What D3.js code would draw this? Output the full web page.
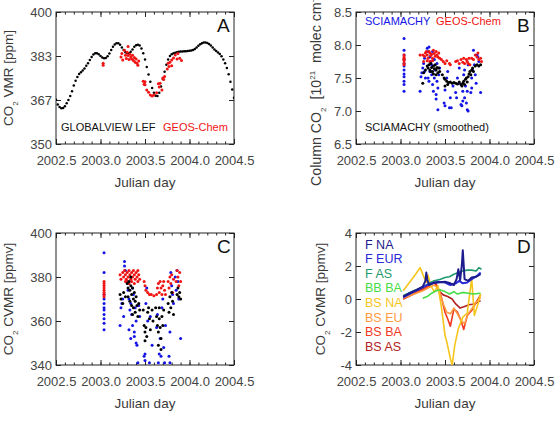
<!DOCTYPE html>
<html>
<head>
<meta charset="utf-8">
<script src="https://cdn.jsdelivr.net/npm/d3@7"></script>
<style>
  body { margin: 0; background: #fff; }
  svg { display: block; }
  text { font-family: "Liberation Sans", Helvetica, Arial, sans-serif; }
</style>
</head>
<body>
<svg id="fig" width="556" height="437"></svg>
<script>
// x axis (decimal year)
var yearTicks = [2002.5, 2003.0, 2003.5, 2004.0, 2004.5];
var yearLabels = ['2002.5', '2003.0', '2003.5', '2004.0', '2004.5'];

// panel A : GLOBALVIEW LEF and GEOS-Chem surface CO2 [ppm]
var gvTime = [2002.50, 2002.52, 2002.54, 2002.56, 2002.58, 2002.60, 2002.62, 2002.64, 2002.66, 2002.68,
  2002.70, 2002.72, 2002.74, 2002.76, 2002.78, 2002.80, 2002.82, 2002.84, 2002.86, 2002.88,
  2002.90, 2002.92, 2002.94, 2002.96, 2002.98, 2003.00, 2003.02, 2003.04, 2003.06, 2003.08,
  2003.10, 2003.12, 2003.14, 2003.16, 2003.18, 2003.20, 2003.22, 2003.24, 2003.26, 2003.28,
  2003.30, 2003.32, 2003.34, 2003.36, 2003.38, 2003.40, 2003.42, 2003.44, 2003.46, 2003.48,
  2003.50, 2003.52, 2003.54, 2003.56, 2003.58, 2003.60, 2003.62, 2003.64, 2003.66, 2003.68,
  2003.70, 2003.72, 2003.74, 2003.76, 2003.78, 2003.80, 2003.82, 2003.84, 2003.86, 2003.88,
  2003.90, 2003.92, 2003.94, 2003.96, 2003.98, 2004.00, 2004.02, 2004.04, 2004.06, 2004.08,
  2004.10, 2004.12, 2004.14, 2004.16, 2004.18, 2004.20, 2004.22, 2004.24, 2004.26, 2004.28,
  2004.30, 2004.32, 2004.34, 2004.36, 2004.38, 2004.40, 2004.42, 2004.44, 2004.46, 2004.48, 2004.50];
var gvCO2 = [366.8, 365.0, 364.0, 363.5, 363.6, 364.3, 365.4, 366.7, 368.2, 370.0,
  372.2, 374.0, 375.4, 376.5, 377.2, 377.8, 378.6, 379.6, 380.6, 381.8,
  383.0, 383.9, 384.4, 384.4, 384.0, 383.3, 382.8, 382.5, 382.6, 383.2,
  384.3, 385.6, 386.8, 387.7, 388.2, 388.2, 387.6, 386.6, 385.6, 384.8,
  384.4, 384.4, 384.9, 385.8, 386.8, 387.4, 387.6, 387.3, 386.2, 384.4,
  382.0, 379.2, 376.3, 373.6, 371.2, 369.4, 368.3, 368.2, 369.4, 371.8,
  374.6, 377.4, 380.0, 382.0, 383.3, 384.0, 384.4, 384.6, 384.8, 384.9,
  385.0, 385.0, 385.1, 385.1, 385.2, 385.3, 385.4, 385.6, 386.0, 386.6,
  387.2, 387.8, 388.2, 388.4, 388.4, 388.3, 387.9, 387.3, 386.6, 385.8,
  385.2, 384.7, 384.1, 383.2, 382.0, 380.6, 378.8, 376.4, 373.6, 370.6, 367.5];
var gcSurface = [[2003.03, 380.6], [2003.03, 379.8],
  [2003.23, 383.0], [2003.24, 384.3], [2003.25, 381.8], [2003.27, 385.5], [2003.28, 383.6],
  [2003.29, 382.4], [2003.30, 384.8], [2003.31, 386.9], [2003.31, 383.5], [2003.32, 382.0],
  [2003.33, 384.0], [2003.34, 383.0], [2003.35, 382.2], [2003.36, 383.6], [2003.37, 381.6],
  [2003.38, 382.8], [2003.39, 381.0], [2003.40, 382.2], [2003.41, 380.6], [2003.42, 379.8],
  [2003.43, 381.4],
  [2003.48, 373.8], [2003.49, 372.6], [2003.50, 373.6], [2003.50, 372.4], [2003.52, 370.5],
  [2003.54, 369.6], [2003.56, 368.6], [2003.58, 368.2], [2003.60, 368.6], [2003.63, 369.4],
  [2003.65, 372.8], [2003.66, 371.6], [2003.67, 373.0], [2003.69, 370.5], [2003.70, 375.0],
  [2003.71, 374.4], [2003.72, 375.6],
  [2003.75, 378.4], [2003.76, 380.6], [2003.77, 379.4], [2003.78, 381.0], [2003.80, 381.8],
  [2003.80, 379.6], [2003.82, 382.6], [2003.84, 383.7], [2003.86, 382.2], [2003.87, 384.3],
  [2003.89, 382.5], [2003.91, 381.6]];

// panel B : column CO2 [10^21 molec cm^-2]
var sciaColumn = [[2003.04, 8.10], [2003.04, 7.92], [2003.04, 7.85], [2003.04, 7.78], [2003.04, 7.72],
  [2003.04, 7.68], [2003.04, 7.62], [2003.04, 7.56], [2003.04, 7.52], [2003.04, 7.45], [2003.04, 7.40], [2003.04, 7.30],
  [2003.22, 7.30], [2003.23, 7.52], [2003.24, 7.58], [2003.25, 7.65], [2003.26, 7.72], [2003.27, 7.80], [2003.28, 7.50], [2003.27, 7.60],
  [2003.30, 7.95], [2003.31, 7.90], [2003.32, 7.97], [2003.33, 7.82], [2003.34, 7.75], [2003.35, 7.70], [2003.33, 7.60],
  [2003.31, 7.50], [2003.32, 7.45], [2003.35, 7.55], [2003.36, 7.40], [2003.37, 7.30], [2003.38, 7.50], [2003.39, 7.62],
  [2003.40, 7.25], [2003.40, 7.18], [2003.41, 7.45], [2003.42, 7.35], [2003.42, 7.02], [2003.43, 7.55], [2003.44, 7.65],
  [2003.36, 7.90], [2003.38, 7.78], [2003.41, 7.72],
  [2003.49, 7.12], [2003.50, 7.08], [2003.50, 7.32], [2003.52, 7.50], [2003.53, 7.60], [2003.55, 7.05], [2003.56, 7.20],
  [2003.57, 7.05], [2003.59, 7.38], [2003.62, 7.28], [2003.63, 7.20], [2003.64, 7.50], [2003.66, 7.42], [2003.66, 7.65],
  [2003.68, 7.10], [2003.69, 7.08], [2003.70, 7.15], [2003.70, 7.30], [2003.71, 7.55], [2003.72, 7.62], [2003.72, 7.20],
  [2003.73, 7.38], [2003.74, 7.12], [2003.75, 7.02], [2003.76, 7.00], [2003.75, 7.30], [2003.76, 7.70],
  [2003.79, 7.28], [2003.80, 7.35], [2003.80, 7.50], [2003.81, 7.62], [2003.82, 7.92], [2003.83, 7.70], [2003.84, 7.55],
  [2003.86, 7.85], [2003.87, 7.82], [2003.88, 7.75], [2003.90, 7.28], [2003.85, 7.42]];
var gcColumn = [[2003.04, 7.85], [2003.04, 7.82], [2003.04, 7.80], [2003.04, 7.78], [2003.04, 7.76], [2003.04, 7.72], [2003.04, 7.70],
  [2003.22, 7.85], [2003.25, 7.85], [2003.27, 7.83], [2003.28, 7.88], [2003.29, 7.90], [2003.30, 7.85], [2003.31, 7.80],
  [2003.32, 7.90], [2003.33, 7.88], [2003.34, 7.84], [2003.35, 7.86], [2003.36, 7.80], [2003.37, 7.92], [2003.38, 7.87],
  [2003.39, 7.83], [2003.40, 7.90], [2003.41, 7.85], [2003.42, 7.82], [2003.43, 7.88], [2003.44, 7.80], [2003.30, 7.76],
  [2003.33, 7.75], [2003.36, 7.76], [2003.26, 7.75],
  [2003.46, 7.78], [2003.48, 7.75], [2003.50, 7.72], [2003.52, 7.76], [2003.55, 7.72], [2003.56, 7.70],
  [2003.62, 7.75], [2003.64, 7.76], [2003.66, 7.72], [2003.68, 7.78], [2003.70, 7.74], [2003.71, 7.80], [2003.72, 7.72],
  [2003.74, 7.78], [2003.75, 7.75], [2003.76, 7.72], [2003.77, 7.80], [2003.78, 7.70],
  [2003.80, 7.80], [2003.82, 7.78], [2003.84, 7.85], [2003.86, 7.82], [2003.88, 7.78], [2003.90, 7.80], [2003.91, 7.75], [2003.87, 7.88]];
var sciaSmoothColumn = [[2003.25, 7.42], [2003.26, 7.58], [2003.28, 7.62], [2003.30, 7.68], [2003.31, 7.65], [2003.32, 7.70],
  [2003.33, 7.62], [2003.34, 7.72], [2003.35, 7.66], [2003.36, 7.60], [2003.37, 7.68], [2003.38, 7.64], [2003.39, 7.70],
  [2003.40, 7.62], [2003.41, 7.66], [2003.42, 7.58], [2003.43, 7.65], [2003.44, 7.60], [2003.34, 7.60], [2003.37, 7.56], [2003.40, 7.55],
  [2003.47, 7.55], [2003.49, 7.50], [2003.50, 7.48], [2003.52, 7.45], [2003.54, 7.43], [2003.56, 7.44], [2003.58, 7.42],
  [2003.60, 7.43], [2003.62, 7.42], [2003.64, 7.41], [2003.66, 7.44], [2003.68, 7.40], [2003.69, 7.38], [2003.70, 7.42],
  [2003.71, 7.45], [2003.72, 7.40], [2003.73, 7.48], [2003.74, 7.50], [2003.75, 7.44], [2003.76, 7.52], [2003.77, 7.56],
  [2003.78, 7.60], [2003.79, 7.55], [2003.80, 7.62], [2003.81, 7.65], [2003.82, 7.60], [2003.84, 7.68], [2003.86, 7.70],
  [2003.88, 7.68], [2003.90, 7.70], [2003.53, 7.40], [2003.50, 7.38]];

// panel C : column-averaged VMR [ppmv]
var sciaCvmr = [[2003.04, 391], [2003.04, 382], [2003.04, 372], [2003.04, 370], [2003.04, 368], [2003.04, 366],
  [2003.04, 365], [2003.04, 363], [2003.04, 361], [2003.04, 359], [2003.04, 356],
  [2003.22, 358], [2003.23, 366], [2003.24, 368], [2003.25, 370], [2003.27, 387], [2003.27, 385], [2003.28, 383], [2003.26, 362],
  [2003.30, 378], [2003.31, 374], [2003.32, 370], [2003.33, 365], [2003.34, 368], [2003.35, 363], [2003.36, 358],
  [2003.37, 372], [2003.38, 355], [2003.38, 353], [2003.39, 366], [2003.40, 350], [2003.41, 349], [2003.42, 341],
  [2003.40, 360], [2003.43, 367], [2003.36, 375], [2003.34, 352], [2003.32, 356], [2003.44, 362],
  [2003.49, 344], [2003.50, 342], [2003.50, 345], [2003.51, 368], [2003.52, 375], [2003.53, 360], [2003.55, 341],
  [2003.56, 362], [2003.58, 349],
  [2003.63, 357], [2003.64, 363], [2003.65, 341], [2003.66, 339], [2003.67, 352], [2003.68, 344], [2003.69, 366],
  [2003.70, 370], [2003.71, 348], [2003.72, 341], [2003.73, 358], [2003.66, 345],
  [2003.77, 344], [2003.78, 355], [2003.79, 382], [2003.80, 376], [2003.81, 372], [2003.82, 368], [2003.84, 380],
  [2003.86, 383], [2003.87, 378], [2003.88, 370], [2003.90, 352], [2003.85, 374], [2003.78, 341]];
var gcCvmr = [[2003.04, 378], [2003.04, 377], [2003.04, 376], [2003.04, 375], [2003.04, 374], [2003.04, 373], [2003.04, 372], [2003.04, 371],
  [2003.22, 381], [2003.23, 379], [2003.25, 382], [2003.26, 380], [2003.27, 383], [2003.28, 381], [2003.29, 379],
  [2003.30, 382], [2003.30, 378], [2003.31, 380], [2003.32, 383], [2003.33, 381], [2003.34, 379], [2003.35, 382],
  [2003.35, 378], [2003.36, 380], [2003.37, 383], [2003.38, 381], [2003.38, 377], [2003.39, 379], [2003.40, 382],
  [2003.41, 380], [2003.42, 383], [2003.42, 378], [2003.43, 381], [2003.44, 379], [2003.32, 377], [2003.28, 378],
  [2003.49, 378], [2003.50, 376], [2003.51, 374], [2003.53, 373], [2003.55, 372], [2003.57, 372], [2003.60, 371.5],
  [2003.63, 372], [2003.64, 375], [2003.65, 377], [2003.66, 373], [2003.67, 378], [2003.68, 375], [2003.69, 372],
  [2003.70, 376], [2003.71, 378], [2003.72, 374], [2003.73, 372],
  [2003.76, 378], [2003.77, 375], [2003.78, 380], [2003.79, 377], [2003.80, 381], [2003.81, 373], [2003.82, 379],
  [2003.85, 378], [2003.86, 383], [2003.87, 380], [2003.88, 376], [2003.89, 382], [2003.90, 378]];
var smoothCvmr = [[2003.22, 372], [2003.23, 370], [2003.25, 368], [2003.26, 373], [2003.28, 371],
  [2003.30, 377], [2003.31, 375], [2003.31, 371], [2003.32, 378], [2003.33, 374], [2003.33, 369], [2003.34, 376],
  [2003.35, 372], [2003.35, 367], [2003.36, 375], [2003.37, 370], [2003.37, 366], [2003.38, 373], [2003.39, 369],
  [2003.39, 364], [2003.40, 371], [2003.41, 367], [2003.42, 362], [2003.43, 368], [2003.44, 365], [2003.34, 380], [2003.36, 363],
  [2003.48, 365], [2003.49, 358], [2003.50, 355], [2003.50, 351], [2003.51, 357], [2003.52, 353], [2003.53, 364],
  [2003.54, 366], [2003.55, 361], [2003.56, 356], [2003.58, 365], [2003.59, 360],
  [2003.62, 366], [2003.63, 362], [2003.64, 358], [2003.65, 355], [2003.65, 349], [2003.66, 361], [2003.67, 357],
  [2003.68, 352], [2003.68, 347], [2003.69, 362], [2003.70, 358], [2003.71, 365], [2003.66, 366],
  [2003.76, 368], [2003.77, 364], [2003.78, 371], [2003.79, 366], [2003.80, 373], [2003.81, 369], [2003.82, 363],
  [2003.86, 372], [2003.87, 375], [2003.88, 371], [2003.89, 373], [2003.90, 370]];

// panel D : tagged CVMR contributions [ppmv]
var fNA = [[2003.03, 0.15], [2003.10, 0.35], [2003.18, 0.55], [2003.25, 0.75], [2003.28, 1.1], [2003.29, 1.6], [2003.30, 1.2],
  [2003.32, 0.85], [2003.36, 0.95], [2003.42, 1.0], [2003.50, 1.05], [2003.56, 0.95], [2003.60, 0.85], [2003.63, 1.2],
  [2003.65, 1.8], [2003.67, 1.15], [2003.69, 2.1], [2003.70, 2.95], [2003.72, 1.2], [2003.76, 1.1], [2003.80, 1.3],
  [2003.85, 1.35], [2003.90, 1.5]];
var fEUR = [[2003.03, 0.1], [2003.15, 0.45], [2003.25, 0.7], [2003.30, 0.85], [2003.36, 0.95], [2003.42, 1.05], [2003.50, 1.0],
  [2003.56, 0.85], [2003.62, 0.95], [2003.66, 1.1], [2003.70, 0.95], [2003.75, 1.0], [2003.80, 1.2], [2003.86, 1.4], [2003.90, 1.6]];
var fAS = [[2003.03, 0.2], [2003.15, 0.5], [2003.25, 0.7], [2003.32, 0.95], [2003.38, 1.1], [2003.45, 1.2], [2003.50, 1.3],
  [2003.55, 1.35], [2003.60, 1.5], [2003.65, 1.6], [2003.70, 1.7], [2003.75, 1.75], [2003.80, 1.75], [2003.85, 1.7],
  [2003.88, 1.9], [2003.91, 1.8]];
var bbBA = [[2003.25, 0.05], [2003.30, 0.15], [2003.35, 0.35], [2003.40, 0.5], [2003.45, 0.55], [2003.50, 0.45], [2003.55, 0.3],
  [2003.60, 0.45], [2003.64, 0.3], [2003.70, 0.4], [2003.76, 0.35], [2003.82, 0.3], [2003.90, 0.35]];
var bsNA = [[2003.03, 0.5], [2003.10, 1.0], [2003.17, 1.5], [2003.22, 1.9], [2003.27, 1.25], [2003.29, 1.0], [2003.31, 1.45],
  [2003.34, 0.8], [2003.38, 0.45], [2003.42, 0.8], [2003.46, -0.5], [2003.50, -2.2], [2003.52, -2.6], [2003.56, -3.6],
  [2003.58, -4.0], [2003.61, -2.8], [2003.65, -1.8], [2003.70, -1.1], [2003.75, -0.85], [2003.80, 1.25], [2003.83, -1.0],
  [2003.87, -0.3], [2003.90, 0.3]];
var bsEU = [[2003.03, 0.05], [2003.15, 0.3], [2003.25, 0.5], [2003.32, 0.7], [2003.38, 0.85], [2003.43, 0.6], [2003.48, -0.3],
  [2003.52, -0.8], [2003.56, -0.9], [2003.60, -0.55], [2003.64, -0.9], [2003.68, -1.3], [2003.72, -1.5], [2003.76, -0.9],
  [2003.80, -0.6], [2003.85, -0.2], [2003.90, 0.1]];
var bsBA = [[2003.03, 0.0], [2003.15, 0.3], [2003.25, 0.55], [2003.32, 0.8], [2003.38, 1.1], [2003.42, 0.7], [2003.46, 0.1],
  [2003.50, -0.8], [2003.53, -1.2], [2003.56, -1.65], [2003.60, -0.6], [2003.64, -0.8], [2003.68, -1.3], [2003.71, -1.85],
  [2003.75, -1.0], [2003.80, -0.7], [2003.86, -0.1], [2003.90, 0.25]];
var bsAS = [[2003.03, 0.0], [2003.15, 0.35], [2003.25, 0.6], [2003.32, 0.8], [2003.38, 1.05], [2003.43, 0.5], [2003.48, 0.25],
  [2003.53, 0.15], [2003.58, 0.0], [2003.62, -0.3], [2003.67, -0.55], [2003.72, -0.45], [2003.77, -0.35], [2003.83, -0.3],
  [2003.90, -0.1]];
var tagNames = ['F NA', 'F EUR', 'F AS', 'BB BA', 'BS NA', 'BS EU', 'BS BA', 'BS AS'];
var tagSeries = [fNA, fEUR, fAS, bbBA, bsNA, bsEU, bsBA, bsAS];
var tagColors = ['#1c1c8c', '#2a2ad8', '#1f9a6c', '#46dc46', '#f6c51c', '#ff9a40', '#f2381e', '#b22222'];

var BLACK = '#000', RED = '#f01414', BLUE = '#1414e6', GREY = '#3a3a3a';

var svg = d3.select('#fig');
var W = 178, H = 132;

function panel(left, top, yDomain, yTicks, yLabels, letter, id) {
  var g = svg.append('g').attr('transform', 'translate(' + left + ',' + top + ')');
  var x = d3.scaleLinear().domain([2002.5, 2004.5]).range([0, W]);
  var y = d3.scaleLinear().domain(yDomain).range([H, 0]);

  g.append('clipPath').attr('id', 'clip' + id)
    .append('rect').attr('width', W).attr('height', H);

  var minor = d3.range(2002.5, 2004.51, 0.1);
  // minor ticks
  g.append('g').attr('transform', 'translate(0,' + H + ')')
    .call(d3.axisBottom(x).tickValues(minor).tickSize(-2.5).tickFormat(''));
  g.append('g')
    .call(d3.axisTop(x).tickValues(minor).tickSize(-2.5).tickFormat(''));
  // major ticks
  g.append('g').attr('class', 'xax').attr('transform', 'translate(0,' + H + ')')
    .call(d3.axisBottom(x).tickValues(yearTicks).tickSize(-5).tickPadding(12)
      .tickFormat(function(d, i){ return yearLabels[i]; }));
  g.append('g')
    .call(d3.axisTop(x).tickValues(yearTicks).tickSize(-5).tickFormat(''));
  g.append('g').attr('class', 'yax')
    .call(d3.axisLeft(y).tickValues(yTicks).tickSize(-5).tickPadding(4)
      .tickFormat(function(d, i){ return yLabels[i]; }));
  g.append('g').attr('transform', 'translate(' + W + ',0)')
    .call(d3.axisRight(y).tickValues(yTicks).tickSize(-5).tickFormat(''));

  g.selectAll('.domain').remove();
  g.selectAll('.tick line').attr('stroke', '#222');
  g.selectAll('.tick text').attr('fill', '#444').style('font-size', '13px')
    .style('font-family', '"Liberation Sans", Helvetica, Arial, sans-serif');

  g.append('rect').attr('width', W).attr('height', H)
    .attr('fill', 'none').attr('stroke', '#222').attr('stroke-width', 1);

  g.append('text').attr('x', W / 2).attr('y', H + 43).attr('text-anchor', 'middle')
    .attr('fill', GREY).style('font-size', '13.5px').text('Julian day');

  g.append('text').attr('x', 161).attr('y', 20).attr('fill', '#111')
    .style('font-size', '19px').text(letter);

  var plot = g.append('g').attr('clip-path', 'url(#clip' + id + ')');
  return { g: g, plot: plot, x: x, y: y };
}

function dots(p, data, color, r) {
  p.plot.append('g').selectAll('circle')
    .data(data)
    .enter()
    .append('circle')
    .attr('cx', function(d){ return p.x(d[0]); })
    .attr('cy', function(d){ return p.y(d[1]); })
    .attr('r', r)
    .attr('fill', color);
}

function yTitle(g, xPos, yPos, anchor, parts, size) {
  var t = g.append('text')
    .attr('transform', 'translate(' + xPos + ',' + yPos + ') rotate(-90)')
    .attr('text-anchor', anchor).attr('fill', GREY).style('font-size', (size || 13.5) + 'px')
    .attr('xml:space', 'preserve');
  parts.forEach(function(pt){
    var s = t.append('tspan').text(pt[0]);
    if (pt[1] === 'sub') s.attr('dy', 5).style('font-size', '8px');
    if (pt[1] === 'sup') s.attr('dy', -6).style('font-size', '8px');
    if (pt[1] === 'back') s.attr('dy', -5);
    if (pt[1] === 'down') s.attr('dy', 6);
  });
}

// ---- A
var pA = panel(56, 12, [350, 400], [350, 366.67, 383.33, 400], ['350', '367', '383', '400'], 'A', 'a');
dots(pA, gvTime.map(function(t, i){ return [t, gvCO2[i]]; }), BLACK, 1.25);
dots(pA, gcSurface, RED, 1.5);
pA.g.append('text').attr('x', 5).attr('y', 119).attr('fill', '#111').style('font-size', '11px').text('GLOBALVIEW LEF');
pA.g.append('text').attr('x', 107).attr('y', 119).attr('fill', RED).style('font-size', '11px').text('GEOS-Chem');
yTitle(pA.g, -43, H / 2, 'middle', [['CO'], ['2', 'sub'], [' VMR [ppm]', 'back']]);

// ---- B
var pB = panel(356, 12, [6.5, 8.5], [6.5, 7.0, 7.5, 8.0, 8.5], ['6.5', '7.0', '7.5', '8.0', '8.5'], 'B', 'b');
dots(pB, sciaColumn, BLUE, 1.5);
dots(pB, gcColumn, RED, 1.5);
dots(pB, sciaSmoothColumn, BLACK, 1.5);
pB.g.append('text').attr('x', 9).attr('y', 13).attr('fill', BLUE).style('font-size', '11px').text('SCIAMACHY');
pB.g.append('text').attr('x', 80).attr('y', 13).attr('fill', RED).style('font-size', '11px').text('GEOS-Chem');
pB.g.append('text').attr('x', 9).attr('y', 119).attr('fill', '#111').style('font-size', '11px').text('SCIAMACHY (smoothed)');
yTitle(pB.g, -35, 174, 'start', [['Column CO'], ['2', 'sub'], ['  [10', 'back'], ['21', 'sup'], ['  molec cm', 'down'], ['-2', 'sup']], 14.2);

// ---- C
var pC = panel(56, 233, [340, 400], [340, 360, 380, 400], ['340', '360', '380', '400'], 'C', 'c');
dots(pC, sciaCvmr, BLUE, 1.5);
dots(pC, gcCvmr, RED, 1.5);
dots(pC, smoothCvmr, BLACK, 1.5);
yTitle(pC.g, -43, H / 2, 'middle', [['CO'], ['2', 'sub'], [' CVMR [ppmv]', 'back']]);

// ---- D
var pD = panel(356, 233, [-4, 4], [-4, -2, 0, 2, 4], ['-4', '-2', '0', '2', '4'], 'D', 'd');
var line = d3.line().x(function(d){ return pD.x(d[0]); }).y(function(d){ return pD.y(d[1]); });
for (var i = tagSeries.length - 1; i >= 0; i--) {
  pD.plot.append('path').attr('d', line(tagSeries[i]))
    .attr('fill', 'none').attr('stroke', tagColors[i])
    .attr('stroke-width', i < 2 ? 2 : 1.6).attr('stroke-linejoin', 'round');
}
pD.g.selectAll('.legend')
  .data(tagNames)
  .enter()
  .append('text')
  .attr('class', 'legend')
  .attr('x', 9)
  .attr('y', function(d, i){ return 15.5 + i * 14.6; })
  .attr('fill', function(d, i){ return tagColors[i]; })
  .style('font-size', '12.5px')
  .text(function(d){ return d; });
yTitle(pD.g, -31, H / 2, 'middle', [['CO'], ['2', 'sub'], [' CVMR [ppmv]', 'back']]);
</script>
</body>
</html>
